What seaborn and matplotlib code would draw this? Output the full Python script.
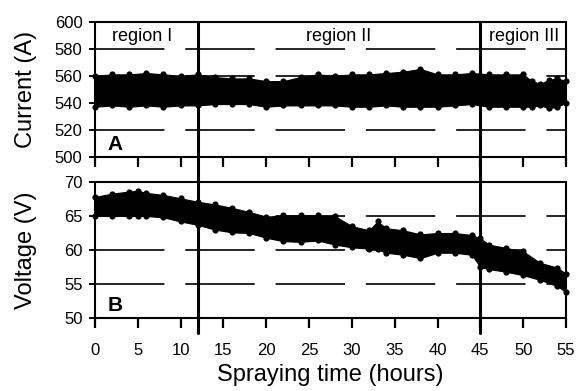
import numpy as np
import pandas as pd
import seaborn as sns
import matplotlib.pyplot as plt

# current band (A): time (h), upper and lower edge
t_cur = [0, 2, 4, 6, 8, 10, 12, 14, 16, 18, 20, 22, 24, 26, 28, 30, 32, 34, 36, 38,
         40, 42, 44, 46, 48, 50, 51, 52, 53, 54, 55]
cur_hi = [560, 561, 561, 562, 561, 560, 561, 559, 558, 558, 556, 556, 559, 561, 560, 561,
          561, 562, 563, 565, 561, 561, 562, 561, 561, 561, 556, 554, 557, 558, 556]
cur_lo = [537, 538, 537, 538, 537, 538, 538, 539, 539, 539, 537, 538, 538, 538, 538, 537,
          537, 538, 537, 537, 537, 538, 539, 537, 537, 537, 537, 538, 536, 537, 540]

# voltage band (V)
t_volt = [0, 2, 4, 5, 6, 8, 10, 12, 14, 16, 18, 20, 22, 24, 26, 28, 30, 32, 33, 34,
          36, 38, 40, 42, 44, 45, 46, 48, 50, 52, 54, 55]
volt_hi = [67.8, 68.3, 68.6, 68.7, 68.4, 68.1, 67.6, 67.1, 66.7, 66.2, 65.6, 64.9, 65.1,
           65.1, 65.1, 65.0, 63.5, 62.9, 64.2, 63.2, 62.9, 62.3, 62.5, 62.5, 62.2, 61.7,
           60.8, 60.3, 59.8, 58.1, 57.4, 56.5]
volt_lo = [65.0, 65.0, 65.0, 65.0, 65.0, 64.8, 64.2, 63.7, 63.0, 62.6, 62.5, 61.8, 61.3,
           61.2, 61.4, 60.8, 60.4, 60.2, 60.1, 59.6, 59.3, 58.8, 59.6, 59.6, 59.3, 57.5,
           57.2, 56.8, 56.3, 55.6, 54.7, 53.8]

boundaries = [12, 45]
regions = ["region I", "region II", "region III"]
region_x = [5.5, 28.4, 50.1]
x_ticks = list(range(0, 56, 5))

sns.set_style("ticks")
plt.rcParams['font.family'] = ['Liberation Sans', 'DejaVu Sans']
plt.rcParams['lines.scale_dashes'] = False
for k in ['text.color', 'axes.labelcolor', 'xtick.color', 'ytick.color', 'axes.edgecolor']:
    plt.rcParams[k] = 'black'

cur = pd.DataFrame({'t': t_cur, 'hi': cur_hi, 'lo': cur_lo})
volt = pd.DataFrame({'t': t_volt, 'hi': volt_hi, 'lo': volt_lo})

fig = plt.figure(figsize=(5.77, 3.91), dpi=100)
axA = fig.add_axes([0.1646, 0.5992, 0.8163, 0.3453])
axB = fig.add_axes([0.1646, 0.1867, 0.8163, 0.3478])


def band(ax, df):
    ax.fill_between(df['t'], df['lo'], df['hi'], color='black', lw=0.8, zorder=3)
    for col in ['hi', 'lo']:
        sns.scatterplot(data=df, x='t', y=col, ax=ax, color='black', s=20,
                        linewidth=0, zorder=4, clip_on=False)


band(axA, cur)
band(axB, volt)

for ax, lims, ticks, gap in [(axA, (500, 600), range(500, 601, 20), -0.19),
                             (axB, (50, 70), range(50, 71, 5), -0.11)]:
    ax.set_xlim(0, 55)
    ax.set_ylim(*lims)
    ax.set_yticks(list(ticks))
    ax.set_xticks(x_ticks)
    ax.grid(axis='y', color='black', lw=1.2, linestyle=(0, (50, 15)), zorder=1)
    ax.set_axisbelow(True)
    for b in boundaries:
        ax.axvline(b, ymin=gap, ymax=1.0, color='black', lw=2.2, zorder=2, clip_on=False)
    for s in ax.spines.values():
        s.set_linewidth(1.5)
        s.set_visible(True)
    ax.tick_params(axis='x', direction='out', length=7, width=1.6, pad=11, labelsize=12)
    ax.tick_params(axis='y', direction='out', length=4, width=1.4, pad=5, labelsize=12)

axA.tick_params(axis='x', labelbottom=False)
axA.set_xlabel('')
axA.set_ylabel('Current (A)', fontsize=17)
axB.set_ylabel('Voltage (V)', fontsize=17)
axA.yaxis.set_label_coords(-0.123, 0.5)
axB.yaxis.set_label_coords(-0.123, 0.5)
axB.set_xlabel('Spraying time (hours)', fontsize=17, labelpad=4)

for name, xr in zip(regions, region_x):
    axA.text(xr, 589, name, fontsize=13, ha='center', va='center', zorder=5)

axA.text(2.3, 509, 'A', fontsize=15, fontweight='bold', ha='center', va='center')
axB.text(2.4, 51.9, 'B', fontsize=15, fontweight='bold', ha='center', va='center')

fig.savefig('out.png', dpi=100)
